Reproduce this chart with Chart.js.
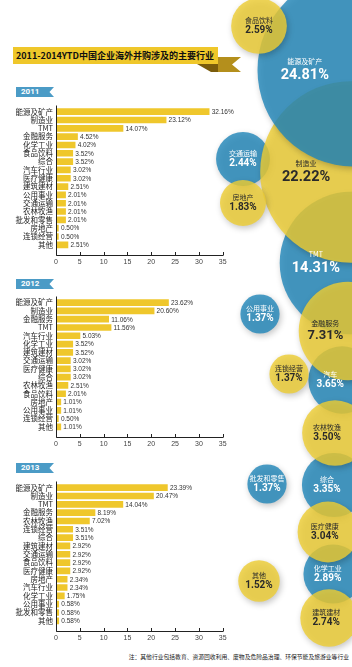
<!DOCTYPE html>
<html>
<head>
<meta charset="utf-8">
<script src="https://cdn.jsdelivr.net/npm/chart.js@4.4.0/dist/chart.umd.min.js"></script>
<style>
html,body{margin:0;padding:0;background:#fff;}
body{width:352px;height:667px;position:relative;overflow:hidden;font-family:"Noto Sans CJK SC",sans-serif;}
canvas{position:absolute;left:0;}
#title{position:absolute;left:13px;top:47px;width:205px;height:17px;background:#efc72a;color:#111;font-size:9px;font-weight:bold;line-height:17px;padding-left:3px;box-sizing:border-box;white-space:nowrap;z-index:2;}
#ribbon{position:absolute;left:0;top:0;z-index:1;}
.tag{position:absolute;left:16px;width:38px;height:10px;background:#4b9bc6;color:#fff;font:bold 8px Roboto,sans-serif;line-height:10px;padding-left:5px;box-sizing:border-box;clip-path:polygon(0 0,100% 0,88% 50%,100% 100%,0 100%);}
#note{position:absolute;right:3px;top:652px;font-size:5.8px;color:#222;white-space:nowrap;}
#bubbles{z-index:5;pointer-events:none;top:0;}
</style>
</head>
<body>
<svg id="ribbon" width="352" height="80">
  <polygon points="212,57 241,57 232,64.5 241,72 212,72" fill="#b48f1c"/>
  <polygon points="197,64 218,64 218,72 211,72" fill="#7a5c0c"/>
</svg>
<div id="title">2011-2014YTD中国企业海外并购涉及的主要行业</div>

<div class="tag" style="top:87px">2011</div>
<div class="tag" style="top:279px">2012</div>
<div class="tag" style="top:463px">2013</div>

<canvas id="c2011" width="245"></canvas>
<canvas id="c2012" width="245"></canvas>
<canvas id="c2013" width="245"></canvas>
<canvas id="bubbles" width="352" height="667"></canvas>

<div id="note">注：其他行业包括教育、资源回收利用、废物及危险品治理、环保节能及旅游业等行业</div>

<script>
// ================= DATA =================
const cats2011 = ["能源及矿产","制造业","TMT","金融服务","化学工业","食品饮料","综合","汽车行业","医疗健康","建筑建材","公用事业","交通运输","农林牧渔","批发和零售","房地产","连锁经营","其他"];
const vals2011 = [32.16,23.12,14.07,4.52,4.02,3.52,3.52,3.02,3.02,2.51,2.01,2.01,2.01,2.01,0.50,0.50,2.51];

const cats2012 = ["能源及矿产","制造业","金融服务","TMT","汽车行业","化学工业","建筑建材","交通运输","医疗健康","综合","农林牧渔","食品饮料","房地产","公用事业","连锁经营","其他"];
const vals2012 = [23.62,20.60,11.06,11.56,5.03,3.52,3.52,3.02,3.02,3.02,2.51,2.01,1.01,1.01,0.50,1.01];

const cats2013 = ["能源及矿产","制造业","TMT","金融服务","农林牧渔","连锁经营","综合","建筑建材","交通运输","食品饮料","医疗健康","房地产","汽车行业","化学工业","公用事业","批发和零售","其他"];
const vals2013 = [23.39,20.47,14.04,8.19,7.02,3.51,3.51,2.92,2.92,2.92,2.92,2.34,2.34,1.75,0.58,0.58,0.58];

const xTicks = [0,5,10,15,20,25,30,35];

// 2014 YTD bubbles (listed in drawing order)
const bubbleNames  = ["TMT","汽车","综合","化学工业","交通运输","公用事业","批发和零售","制造业","金融服务","农林牧渔","医疗健康","建筑建材","房地产","连锁经营","其他","能源及矿产","食品饮料"];
const bubbleValues = [14.31,3.65,3.35,2.89,2.44,1.37,1.37,22.22,7.31,3.50,3.04,2.74,1.83,1.37,1.52,24.81,2.59];
const bubbleKinds  = ["b","b","b","b","b","b","b","y","y","y","y","y","y","y","y","b","y"];
// where each bubble sits on the page
const bubblePos = [[351,263],[342,380],[334,485],[333,574],[243,159],[260,314],[267,484],[351,172],[348,331],[335,433],[328,532],[329,618],[243,203],[289,374],[259,581],[354,70],[259,26]];

// ================= BAR CHARTS =================
const BAND = 8.45, PAD_TOP = 5, X_H = 22, AXIS_GAP = 6;

const axisLines = {
  id:"axisLines",
  afterDraw(chart){
    const {ctx, chartArea:a, scales:{x}} = chart;
    const yb = Math.round(a.bottom + AXIS_GAP) + 0.5;
    const xl = Math.round(a.left) + 0.5;
    ctx.save();
    ctx.strokeStyle = "#222"; ctx.lineWidth = 1;
    ctx.beginPath();
    ctx.moveTo(xl, a.top - 2); ctx.lineTo(xl, yb); ctx.lineTo(a.right + 0.5, yb);
    x.ticks.forEach(t=>{
      const px = Math.round(x.getPixelForValue(t.value)) + 0.5;
      ctx.moveTo(px, yb); ctx.lineTo(px, yb - 3.5);
    });
    ctx.stroke();
    ctx.restore();
  }
};

const valueLabels = {
  id:"valueLabels",
  afterDatasetsDraw(chart){
    const ctx = chart.ctx, meta = chart.getDatasetMeta(0), d = chart.data.datasets[0].data;
    ctx.save();
    ctx.font = '6.5px "Liberation Sans", Arial, sans-serif';
    ctx.fillStyle = "#333"; ctx.textBaseline = "middle"; ctx.textAlign = "left";
    meta.data.forEach((bar,i)=> ctx.fillText(d[i].toFixed(2) + "%", bar.x + 2.5, bar.y + 0.5));
    ctx.restore();
  }
};

function makeBars(id, cats, vals, firstCenter){
  const el = document.getElementById(id);
  const h = Math.round(PAD_TOP + cats.length*BAND + X_H);
  const band = (h - PAD_TOP - X_H) / cats.length;
  el.height = h;
  el.style.top = (firstCenter - band/2 - PAD_TOP) + "px";
  return new Chart(el, {
    type:"bar",
    data:{labels:cats, datasets:[{data:vals, backgroundColor:"#efc72c", borderWidth:0, barThickness:6}]},
    options:{
      indexAxis:"y", responsive:false, animation:false,
      layout:{padding:{top:PAD_TOP, right:22.3, left:0, bottom:0}},
      plugins:{legend:{display:false}, tooltip:{enabled:false}},
      scales:{
        x:{min:0, max:35,
           afterBuildTicks(s){ s.ticks = xTicks.map(v=>({value:v})); },
           ticks:{padding:9, color:"#444", font:{family:'"Liberation Sans", Arial, sans-serif', size:7}},
           grid:{display:false, drawTicks:false}, border:{display:false},
           afterFit(s){ s.height = X_H; }},
        y:{ticks:{padding:3, autoSkip:false, color:"#222", font:{family:'"Noto Sans CJK SC", sans-serif', size:7.5}},
           grid:{display:false, drawTicks:false}, border:{display:false},
           afterFit(s){ s.width = 56; }}
      }
    },
    plugins:[axisLines, valueLabels]
  });
}

makeBars("c2011", cats2011, vals2011, 109);
makeBars("c2012", cats2012, vals2012, 300);
makeBars("c2013", cats2013, vals2013, 485);

// ================= BUBBLES =================
const BLUE = "rgba(35,135,185,0.82)", YELLOW = "rgba(237,205,52,0.82)";
const bubbleR = v => 16.5 * Math.pow(v, 0.55);

const bubbleShadow = {
  id:"bubbleShadow",
  beforeDatasetsDraw(chart){
    const ctx = chart.ctx;
    ctx.save();
    ctx.shadowColor = "rgba(0,0,0,0.28)"; ctx.shadowBlur = 6;
    ctx.shadowOffsetX = 1.5; ctx.shadowOffsetY = 2.5;
  },
  afterDatasetsDraw(chart){
    const ctx = chart.ctx, a = chart.chartArea;
    ctx.restore();
    const meta = chart.getDatasetMeta(0);
    ctx.save();
    ctx.textAlign = "center"; ctx.textBaseline = "middle";
    meta.data.forEach((pt,i)=>{
      const v = bubbleValues[i], r = pt.options.radius;
      const cx = (Math.max(pt.x - r, a.left) + Math.min(pt.x + r, a.right)) / 2;
      const vs = v >= 10 ? 14.5 : (v >= 5 ? 13 : 10);
      const ns = 7, gap = v >= 5 ? 3 : 2;
      const top = pt.y - (ns + gap + vs)/2;
      ctx.fillStyle = bubbleKinds[i] === "b" ? "#fff" : "#2a2a2a";
      ctx.font = ns + 'px "Noto Sans CJK SC", sans-serif';
      ctx.fillText(bubbleNames[i], cx, top + ns/2);
      ctx.font = "bold " + vs + "px Roboto, sans-serif";
      ctx.fillText(v.toFixed(2) + "%", cx, top + ns + gap + vs/2);
    });
    ctx.restore();
  }
};

new Chart(document.getElementById("bubbles"), {
  type:"bubble",
  data:{datasets:[{
    data: bubbleValues.map((v,i)=>({x:bubblePos[i][0], y:bubblePos[i][1], r:bubbleR(v)})),
    backgroundColor: bubbleKinds.map(k=> k === "b" ? BLUE : YELLOW),
    borderWidth:0,
    clip:false
  }]},
  options:{
    responsive:false, animation:false,
    layout:{padding:0, autoPadding:false},
    plugins:{legend:{display:false}, tooltip:{enabled:false}},
    scales:{
      x:{type:"linear", min:0, max:352, display:false},
      y:{type:"linear", min:0, max:667, reverse:true, display:false}
    }
  },
  plugins:[bubbleShadow]
});
</script>
</body>
</html>
